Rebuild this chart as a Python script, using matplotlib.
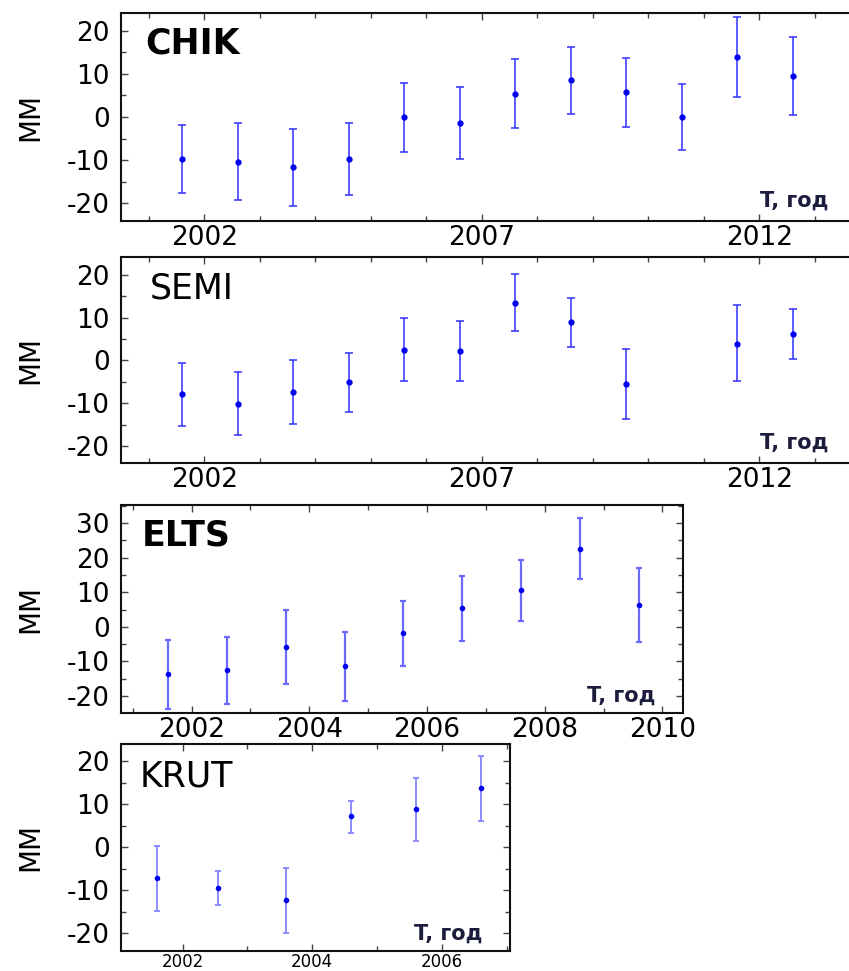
# plot.py
# смещения станций (CHIK, SEMI, ELTS, KRUT) по годам, с ошибками

import matplotlib
matplotlib.use('Agg')
import matplotlib.pyplot as plt
from matplotlib.ticker import FixedLocator, MultipleLocator
import numpy as np

plt.rcParams['font.family'] = ['DejaVu Sans']
plt.rcParams['axes.unicode_minus'] = False

# ---- данные ----
chik_t = [2001.6, 2002.6, 2003.6, 2004.6, 2005.6, 2006.6, 2007.6, 2008.6, 2009.6, 2010.6, 2011.6, 2012.6]
chik_val = [-9.8, -10.3, -11.5, -9.7, 0.0, -1.3, 5.4, 8.5, 5.8, 0.0, 14.0, 9.6]
chik_lo = [-17.7, -19.1, -20.5, -18.0, -8.2, -9.7, -2.6, 0.8, -2.3, -7.7, 4.7, 0.5]
chik_hi = [-1.9, -1.5, -2.8, -1.4, 7.9, 6.9, 13.4, 16.1, 13.7, 7.6, 23.1, 18.5]

semi_t = [2001.6, 2002.6, 2003.6, 2004.6, 2005.6, 2006.6, 2007.6, 2008.6, 2009.6, 2011.6, 2012.6]
semi_val = [-7.9, -10.2, -7.4, -5.1, 2.5, 2.1, 13.5, 8.9, -5.5, 3.8, 6.2]
semi_lo = [-15.3, -17.5, -14.8, -12.0, -4.9, -4.9, 6.9, 3.2, -13.6, -4.9, 0.3]
semi_hi = [-0.5, -2.8, 0.0, 1.8, 9.8, 9.1, 20.1, 14.5, 2.6, 12.9, 12.0]

elts_t = [2001.6, 2002.6, 2003.6, 2004.6, 2005.6, 2006.6, 2007.6, 2008.6, 2009.6]
elts_val = [-13.5, -12.5, -5.9, -11.4, -1.8, 5.5, 10.7, 22.6, 6.4]
elts_lo = [-23.6, -22.4, -16.6, -21.4, -11.2, -4.1, 1.8, 13.8, -4.4]
elts_hi = [-3.7, -3.0, 4.9, -1.5, 7.4, 14.7, 19.2, 31.4, 17.0]

krut_t = [2001.6, 2002.55, 2003.6, 2004.6, 2005.6, 2006.6]
krut_val = [-7.2, -9.5, -12.3, 7.2, 8.8, 13.7]
krut_lo = [-14.8, -13.3, -20.0, 3.4, 1.5, 6.2]
krut_hi = [0.2, -5.5, -4.8, 10.8, 16.2, 21.2]

ticks_long = [2002, 2007, 2012]
ticks_elts = [2002, 2004, 2006, 2008, 2010]
ticks_krut = [2002, 2004, 2006]

W, H = 849, 971
fig = plt.figure(figsize=(W / 100, H / 100), dpi=100)


def add_ax(left, top, right, bottom):
    # координаты в пикселях картинки
    return fig.add_axes([left / W, 1 - bottom / H, (right - left) / W, (bottom - top) / H])


def panel(ax, t, val, lo, hi, name, bold, xlim, ylim, xticks, ymaj, yminor,
          ecolor, elw, ms, cap, xlab_size, name_pos, tpos):
    val = np.array(val)
    err = [val - np.array(lo), np.array(hi) - val]
    ax.errorbar(t, val, yerr=err, fmt='o', ms=ms, color='#0000f0', mec='#0000f0',
                ecolor=ecolor, elinewidth=elw, capsize=cap, capthick=elw)
    ax.set_xlim(*xlim)
    ax.set_ylim(*ylim)
    ax.xaxis.set_major_locator(FixedLocator(xticks))
    ax.xaxis.set_minor_locator(MultipleLocator(1))
    ax.yaxis.set_major_locator(MultipleLocator(ymaj))
    ax.yaxis.set_minor_locator(MultipleLocator(yminor))
    ax.tick_params(which='both', direction='in', top=True, right=True, color='#444444')
    ax.tick_params(which='major', length=5, width=1)
    ax.tick_params(which='minor', length=3.5, width=1)
    ax.tick_params(axis='y', labelsize=19, pad=8)
    ax.tick_params(axis='x', labelsize=xlab_size, pad=3)
    for s in ax.spines.values():
        s.set_linewidth(1.5)
        s.set_color('#111111')
    ax.text(name_pos[0], name_pos[1], name, transform=ax.transAxes, fontsize=25,
            fontweight='bold' if bold else 'normal', va='baseline', ha='left')
    ax.text(tpos[0], tpos[1], 'T, год', transform=ax.transAxes, fontsize=15,
            fontweight='bold', color='#1c1c3c', va='baseline', ha='right')
    # подпись оси Y
    pos = ax.get_position()
    fig.text(30 / W, pos.y0 + pos.height / 2, 'ММ', rotation=90, fontsize=20,
             ha='center', va='center')


ax1 = add_ax(121, 13.3, 121 + 13.5 * 55.5, 220.7)
panel(ax1, chik_t, chik_val, chik_lo, chik_hi, 'CHIK', True, (2000.5, 2014.0), (-24, 24),
      ticks_long, 10, 5, '#3030ff', 1.1, 3.5, 3, 19, (0.032, 0.808), (0.944, 0.068))

ax2 = add_ax(121, 256.7, 121 + 13.5 * 55.5, 463.3)
panel(ax2, semi_t, semi_val, semi_lo, semi_hi, 'SEMI', False, (2000.5, 2014.0), (-24, 24.2),
      ticks_long, 10, 5, '#3030ff', 1.1, 3.5, 3, 19, (0.039, 0.797), (0.944, 0.072))

ax3 = add_ax(121, 505, 683, 712.7)
panel(ax3, elts_t, elts_val, elts_lo, elts_hi, 'ELTS', True, (2000.8, 2010.35), (-24.8, 35.2),
      ticks_elts, 10, 5, '#6a6aff', 1.6, 3.0, 2.5, 19, (0.037, 0.805), (0.95, 0.053))

ax4 = add_ax(121, 744, 510, 950.7)
panel(ax4, krut_t, krut_val, krut_lo, krut_hi, 'KRUT', False, (2001.05, 2007.05), (-24, 24),
      ticks_krut, 10, 5, '#8c8cff', 1.4, 3.0, 2.5, 12, (0.048, 0.796), (0.928, 0.052))
ax4.tick_params(axis='x', pad=2)

fig.savefig('out.png', dpi=100)
